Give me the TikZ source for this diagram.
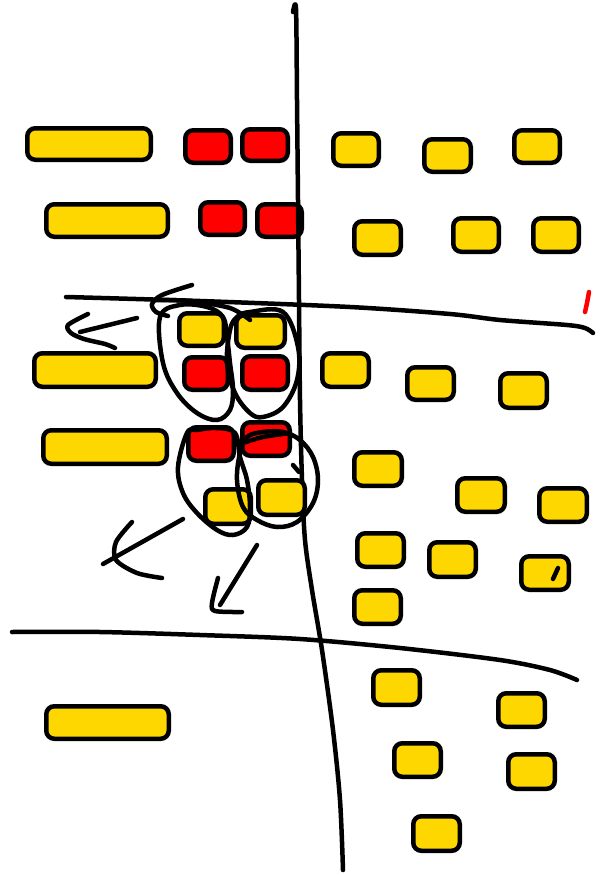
\documentclass[tikz,border=0pt]{standalone}
\definecolor{cardyellow}{HTML}{FFD700}
\definecolor{cardred}{HTML}{FF0000}
\tikzset{
  card/.style={draw=black, line width=4.5pt, rounded corners=8pt, inner sep=0pt},
  ink/.style={line width=4.5pt, line cap=round, line join=round, draw=black},
  redink/.style={line width=4.5pt, line cap=round, draw=cardred}
}
\newcommand\card[6]{\node[card, fill=#6, minimum width={(#4-#2-4.5)*1pt}, minimum height={(#5-#3-4.5)*1pt}] (#1) at ({(#2+#4)/2},{(#3+#5)/2}) {};}
\begin{document}
\begin{tikzpicture}[x=1pt,y=-1pt]
\useasboundingbox[fill=white] (0,0) rectangle (604,875);
% row 1
\card{a1}{25}{126}{153}{162}{cardyellow}
\card{a2}{183}{128}{233}{165}{cardred}
\card{a3}{240}{127}{290}{163}{cardred}
\card{a4}{331}{131}{381}{168}{cardyellow}
\card{a5}{422}{137}{473}{174}{cardyellow}
\card{a6}{512}{128}{562}{165}{cardyellow}
% row 2
\card{b1}{44}{202}{170}{239}{cardyellow}
\card{b2}{198}{200}{247}{237}{cardred}
\card{b3}{255}{202}{304}{239}{cardred}
\card{b4}{352}{219}{403}{257}{cardyellow}
\card{b5}{451}{216}{501}{254}{cardyellow}
\card{b6}{531}{216}{581}{254}{cardyellow}
% vertical divider
\draw[ink] plot[smooth, tension=0.5] coordinates {(293,12) (296,9) (297,100) (298,200) (299,300) (300,400) (302,480) (305,540) (312,590) (322,650) (333,730) (340,800) (343,870)};
% row 3
\card{c1}{177}{311}{226}{348}{cardyellow}
\card{c2}{234}{313}{287}{350}{cardyellow}
\card{c3}{32}{351}{158}{389}{cardyellow}
\card{c4}{182}{355}{230}{392}{cardred}
\card{c5}{240}{354}{290}{392}{cardred}
\card{c6}{320}{351}{371}{389}{cardyellow}
\card{c7}{405}{365}{456}{402}{cardyellow}
\card{c8}{498}{371}{549}{410}{cardyellow}
% row 4
\card{d1}{41}{428}{169}{466}{cardyellow}
\card{d2}{186}{425}{236}{463}{cardred}
\card{d3}{240}{420}{292}{458}{cardred}
\card{d4}{352}{450}{404}{488}{cardyellow}
\card{d5}{455}{476}{507}{514}{cardyellow}
\card{d6}{537}{486}{589}{524}{cardyellow}
% row 5
\card{e1}{203}{487}{253}{526}{cardyellow}
\card{e2}{256}{478}{307}{517}{cardyellow}
\card{e3}{355}{531}{406}{569}{cardyellow}
\card{e4}{427}{540}{478}{579}{cardyellow}
\card{e5}{519}{554}{571}{592}{cardyellow}
\card{e6}{352}{588}{403}{626}{cardyellow}
% row 6
\card{f1}{44}{704}{171}{741}{cardyellow}
\card{f2}{371}{668}{422}{707}{cardyellow}
\card{f3}{496}{691}{547}{729}{cardyellow}
\card{f4}{392}{741}{443}{779}{cardyellow}
\card{f5}{506}{752}{557}{791}{cardyellow}
\card{f6}{411}{814}{462}{853}{cardyellow}
% horizontal dividers
\draw[ink] plot[smooth, tension=0.5] coordinates {(66,297) (200,301) (350,307) (450,314) (500,320) (567,325) (585,328) (593,333)};
\draw[ink] plot[smooth, tension=0.5] coordinates {(12,632) (100,632) (200,635) (300,639) (400,648) (500,660) (550,670) (577,680)};
% red tick
\draw[redink] plot[smooth] coordinates {(589,292) (587,303) (585,312)};
% mark inside e5
\draw[ink] (558,568) -- (553,579);
% loops
\draw[ink] plot[smooth cycle, tension=0.6] coordinates {(160,317) (163,363) (177,393) (197,413) (217,420) (230,410) (233,390) (230,363) (227,337) (223,317) (207,307) (180,305)};
\draw[ink] plot[smooth cycle, tension=0.6] coordinates {(250,312) (283,312) (298,347) (297,380) (283,407) (263,417) (250,413) (235,393) (227,363) (230,330) (237,317)};
\draw[ink] plot[smooth cycle, tension=0.6] coordinates {(187,433) (178,467) (183,493) (197,513) (217,530) (233,535) (247,527) (250,507) (247,480) (240,457) (235,433) (217,428) (197,430)};
\draw[ink] plot[smooth cycle, tension=0.6] coordinates {(240,453) (237,480) (243,507) (257,520) (277,527) (297,522) (313,503) (318,480) (313,457) (300,440) (283,432) (263,432) (247,437)};
% scribble in d3
\draw[ink] plot[smooth] coordinates {(243,443) (263,437) (290,433)};
\draw[ink] (293,465) -- (299,472);
% arrows
\draw[ink] plot[smooth] coordinates {(250,320) (230,308) (190,301) (155,300)};
\draw[ink] plot[smooth] coordinates {(192,285) (162,295) (152,304) (156,312) (168,316)};
\draw[ink] (137,318) -- (80,332);
\draw[ink] plot[smooth] coordinates {(88,314) (68,325) (71,333) (84,339) (105,344) (115,348)};
\draw[ink] (183,519) -- (103,564);
\draw[ink] plot[smooth] coordinates {(132,522) (116,542) (116,560) (137,573) (162,578)};
\draw[ink] (257,545) -- (220,605);
\draw[ink] plot[smooth] coordinates {(218,578) (212,603) (215,611) (242,612)};
\end{tikzpicture}
\end{document}
